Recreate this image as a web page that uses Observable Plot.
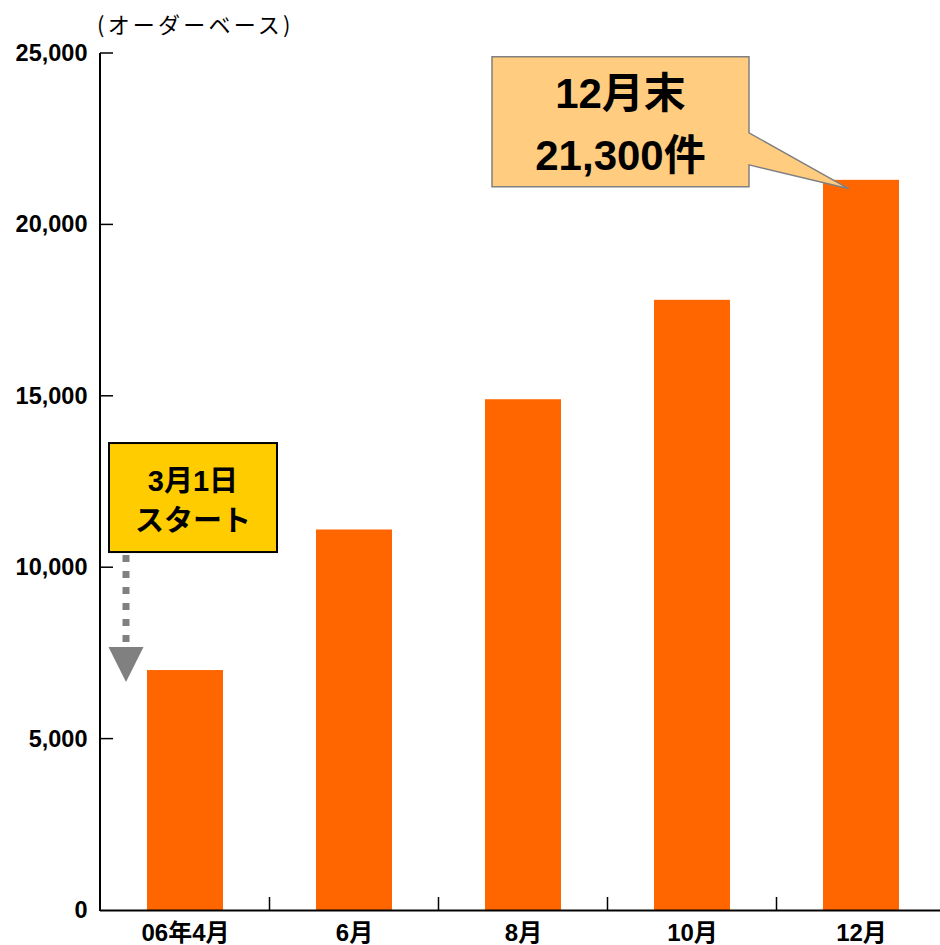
<!DOCTYPE html>
<html>
<head>
<meta charset="utf-8">
<script src="https://cdn.jsdelivr.net/npm/d3@7"></script>
<script src="https://cdn.jsdelivr.net/npm/@observablehq/plot@0.6"></script>
<style>
  html, body { margin: 0; padding: 0; background: #fff; }
  #chart svg { display: block; }
</style>
</head>
<body>
<div id="chart"></div>
<script>
const categories = ["06年4月", "6月", "8月", "10月", "12月"];
const values = [7000, 11100, 14900, 17800, 21300];
const yTicks = [0, 5000, 10000, 15000, 20000, 25000];
const unitLabel = "(オーダーベース)";
const calloutLines = ["12月末", "21,300件"];
const startLines = ["3月1日", "スタート"];

const data = categories.map((c, i) => ({cat: c, value: values[i]}));
const FONT = "'Liberation Sans', Arial, 'Noto Sans CJK JP', sans-serif";

function decorations(index, scales, vals, dim) {
  const x = scales.x, y = scales.y;
  const bw = x.bandwidth ? x.bandwidth() : 76;
  const g = d3.create("svg:g").attr("text-anchor", "start");
  const ml = dim.marginLeft;
  // y axis line
  g.append("line").attr("x1", ml).attr("x2", ml)
    .attr("y1", y(yTicks[yTicks.length - 1])).attr("y2", y(0) + 1)
    .attr("stroke", "#000").attr("stroke-width", 2);
  // inward y ticks
  for (const v of yTicks.slice(1)) {
    g.append("line").attr("x1", ml).attr("x2", ml + 13)
      .attr("y1", y(v)).attr("y2", y(v))
      .attr("stroke", "#000").attr("stroke-width", 1.5);
  }
  // x dividers between categories
  for (let i = 1; i < categories.length; i++) {
    const bx = (x(categories[i - 1]) + bw + x(categories[i])) / 2;
    g.append("line").attr("x1", bx).attr("x2", bx)
      .attr("y1", y(0)).attr("y2", y(0) - 13)
      .attr("stroke", "#000").attr("stroke-width", 1.5);
  }
  // unit label
  g.append("text").text(unitLabel)
    .attr("x", ml - 3).attr("y", y(yTicks[yTicks.length - 1]) - 26)
    .attr("text-anchor", "start")
    .attr("font-size", 22).attr("font-weight", "normal")
    .attr("letter-spacing", 3.2)
    .attr("dominant-baseline", "middle")
    .attr("font-family", "'Noto Sans CJK JP', 'Liberation Sans', sans-serif").attr("fill", "#000");

  // start note (first bar)
  const x0 = x(categories[0]), y0 = y(values[0]);
  const ax = x0 - 21;
  g.append("line").attr("x1", ax).attr("x2", ax)
    .attr("y1", y0 - 115).attr("y2", y0 - 24)
    .attr("stroke", "#808080").attr("stroke-width", 7)
    .attr("stroke-dasharray", "7,9");
  g.append("path")
    .attr("d", `M${ax - 17.5},${y0 - 23}L${ax + 17.5},${y0 - 23}L${ax},${y0 + 12}Z`)
    .attr("fill", "#808080");
  const bx0 = x0 - 38, bx1 = x0 + 130, by0 = y0 - 227, by1 = y0 - 118;
  g.append("rect").attr("x", bx0).attr("y", by0)
    .attr("width", bx1 - bx0).attr("height", by1 - by0)
    .attr("fill", "#FFCC00").attr("stroke", "#000").attr("stroke-width", 2);
  startLines.forEach((t, i) => {
    g.append("text").text(t)
      .attr("x", (bx0 + bx1) / 2).attr("y", by0 + 48 + i * 40)
      .attr("text-anchor", "middle").attr("font-size", 29)
      .attr("font-weight", "bold").attr("font-family", FONT).attr("fill", "#000");
  });

  // callout (last bar)
  const xc = x(categories[categories.length - 1]), yc = y(values[values.length - 1]);
  const tipX = xc + 26, tipY = yc + 9;
  const cx0 = xc - 331, cx1 = xc - 74, cy0 = yc - 123, cy1 = yc + 7;
  g.append("path")
    .attr("d", `M${cx0},${cy0}H${cx1}V${yc - 47}L${tipX},${tipY}L${cx1},${yc - 15}V${cy1}H${cx0}Z`)
    .attr("fill", "#FFCC80").attr("stroke", "#808080").attr("stroke-width", 1.5);
  calloutLines.forEach((t, i) => {
    g.append("text").text(t)
      .attr("x", (cx0 + cx1) / 2).attr("y", yc - 72 + i * 62)
      .attr("text-anchor", "middle").attr("font-size", 42)
      .attr("font-weight", "bold").attr("font-family", FONT).attr("fill", "#000");
  });
  return g.node();
}

const chart = Plot.plot({
  width: 940,
  height: 945,
  marginLeft: 100,
  marginRight: 0,
  marginTop: 53,
  marginBottom: 35,
  style: {fontFamily: FONT, fontWeight: "bold", color: "#000", background: "#fff"},
  x: {domain: categories, range: [100, 947], paddingInner: 0.55, paddingOuter: 0.275, align: 0.5},
  y: {domain: [0, 25000]},
  marks: [
    Plot.barY(data, {x: "cat", y: "value", fill: "#FF6600"}),
    Plot.ruleY([0], {stroke: "#000", strokeWidth: 2}),
    Plot.axisY({ticks: yTicks, tickFormat: d3.format(","), tickSize: 0, tickPadding: 13, fontSize: 23.5, label: null}),
    Plot.axisX({tickSize: 0, tickPadding: 13, fontSize: 24, label: null}),
    decorations
  ]
});
document.getElementById("chart").appendChild(chart);
</script>
</body>
</html>
